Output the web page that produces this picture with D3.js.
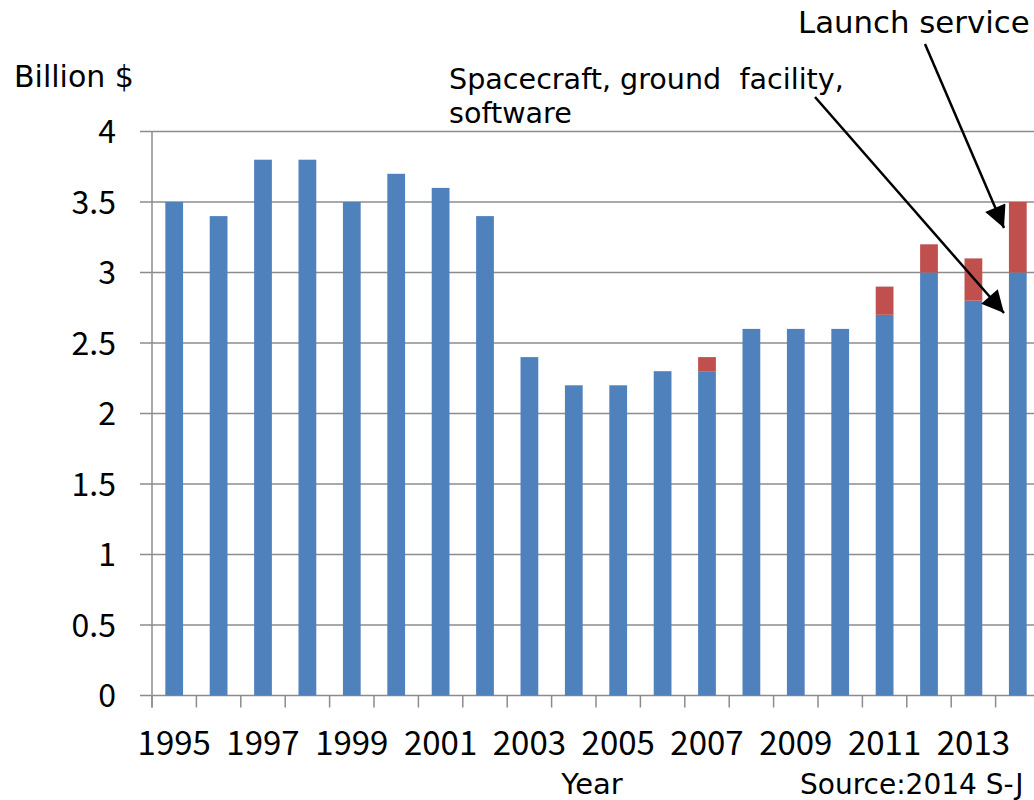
<!DOCTYPE html>
<html>
<meta charset=utf-8>
<title>Space industry sales</title>
<style>
  body { margin: 0; background: #fff; }
  svg { display: block; font-family: "DejaVu Sans", sans-serif; }
  .num { font-family: "Noto Sans CJK JP", "Noto Sans", sans-serif; }
</style>
<svg id=chart width=1034 height=800></svg>
<script src=https://cdn.jsdelivr.net/npm/d3@7></script>
<script>
// 年度
var years = [1995, 1996, 1997, 1998, 1999, 2000, 2001, 2002, 2003, 2004,
             2005, 2006, 2007, 2008, 2009, 2010, 2011, 2012, 2013, 2014];
// Spacecraft, ground facility, software
var hardware = [3.5, 3.4, 3.8, 3.8, 3.5, 3.7, 3.6, 3.4, 2.4, 2.2,
                2.2, 2.3, 2.3, 2.6, 2.6, 2.6, 2.7, 3.0, 2.8, 3.0];
// Launch service
var launch = [0, 0, 0, 0, 0, 0, 0, 0, 0, 0,
              0, 0, 0.1, 0, 0, 0, 0.2, 0.2, 0.3, 0.5];
var yTicks = [0, 0.5, 1, 1.5, 2, 2.5, 3, 3.5, 4];
var yTickLabels = ["0", "0.5", "1", "1.5", "2", "2.5", "3", "3.5", "4"];
var xLabelYears = [1995, 1997, 1999, 2001, 2003, 2005, 2007, 2009, 2011, 2013];

var colors = ["#4f81bd", "#c0504d"];
var grey = "#8c8c8c";

var svg = d3.select("#chart");
var pLeft = 152, pRight = 1040, pTop = 131.5, pBottom = 695.5;

var x = d3.scaleBand().domain(years).range([pLeft, pRight])
        .paddingInner(0.6).paddingOuter(0.3);
var y = d3.scaleLinear().domain([0, 4]).range([pBottom, pTop]);

// 网格线
svg.append("g").selectAll("line").data(yTicks).enter().append("line")
    .attr("x1", pLeft - 12).attr("x2", pRight)
    .attr("y1", function (d) { return y(d); })
    .attr("y2", function (d) { return y(d); })
    .attr("stroke", grey).attr("stroke-width", 1.5);

// 柱子
var table = years.map(function (yr, i) {
    return {year: yr, hardware: hardware[i], launch: launch[i]};
});
var series = d3.stack().keys(["hardware", "launch"])(table);

svg.append("g").selectAll("g").data(series).enter().append("g")
    .attr("fill", function (d, i) { return colors[i]; })
    .selectAll("rect").data(function (d) { return d.filter(function (p) { return p[1] > p[0]; }); })
    .enter().append("rect")
    .attr("x", function (d) { return x(d.data.year); })
    .attr("width", x.bandwidth())
    .attr("y", function (d) { return y(d[1]); })
    .attr("height", function (d) { return y(d[0]) - y(d[1]); });

// 坐标轴
svg.append("line").attr("x1", pLeft).attr("x2", pLeft)
    .attr("y1", pTop).attr("y2", pBottom + 12)
    .attr("stroke", grey).attr("stroke-width", 1.5);

var step = x.step();
svg.append("g").selectAll("line").data(d3.range(years.length + 1)).enter().append("line")
    .attr("x1", function (i) { return pLeft + i * step; })
    .attr("x2", function (i) { return pLeft + i * step; })
    .attr("y1", pBottom).attr("y2", pBottom + 12)
    .attr("stroke", grey).attr("stroke-width", 1.5);

svg.append("g").selectAll("text").data(yTicks).enter().append("text")
    .attr("class", "num")
    .attr("x", 116).attr("y", function (d) { return y(d); })
    .attr("dy", "0.36em").attr("text-anchor", "end")
    .attr("font-size", 32)
    .text(function (d, i) { return yTickLabels[i]; });

svg.append("g").selectAll("text").data(xLabelYears).enter().append("text")
    .attr("class", "num")
    .attr("x", function (d) { return x(d) + x.bandwidth() / 2; })
    .attr("y", 755).attr("text-anchor", "middle")
    .attr("font-size", 33)
    .text(function (d) { return d; });

// 文字
svg.append("text").attr("x", 14).attr("y", 87).attr("font-size", 30).text("Billion $");
svg.append("text").attr("x", 592).attr("y", 794).attr("text-anchor", "middle")
    .attr("font-size", 29).text("Year");
svg.append("text").attr("x", 800).attr("y", 794).attr("font-size", 28)
    .text("Source:2014 S-J");

svg.append("text").attr("x", 798).attr("y", 33).attr("font-size", 30.8).text("Launch service");
var note = svg.append("text").attr("x", 449).attr("font-size", 28.6);
note.append("tspan").attr("x", 449).attr("y", 89).attr("xml:space", "preserve")
    .text("Spacecraft, ground  facility,");
note.append("tspan").attr("x", 449).attr("y", 123).text("software");

// 箭头
svg.append("defs").append("marker")
    .attr("id", "arrow").attr("viewBox", "0 0 10 10")
    .attr("refX", 10).attr("refY", 5)
    .attr("markerWidth", 24).attr("markerHeight", 22)
    .attr("markerUnits", "userSpaceOnUse")
    .attr("orient", "auto")
    .append("path").attr("d", "M0,0L10,5L0,10Z").attr("fill", "#000");

var arrows = [
    [[815, 97], [1004, 313]],
    [[925, 44], [1004, 228]]
];
svg.append("g").selectAll("line").data(arrows).enter().append("line")
    .attr("x1", function (d) { return d[0][0]; })
    .attr("y1", function (d) { return d[0][1]; })
    .attr("x2", function (d) { return d[1][0]; })
    .attr("y2", function (d) { return d[1][1]; })
    .attr("stroke", "#000").attr("stroke-width", 2.5)
    .attr("marker-end", "url(#arrow)");
</script>
</html>
